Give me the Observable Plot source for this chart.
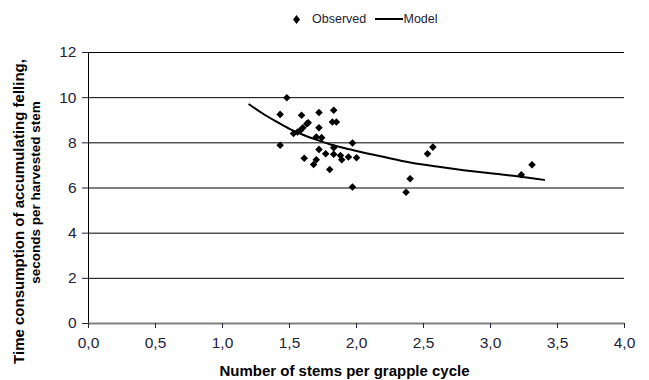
<!DOCTYPE html>
<html>
<head>
<meta charset="utf-8">
<script src="https://cdn.jsdelivr.net/npm/d3@7"></script>
<script src="https://cdn.jsdelivr.net/npm/@observablehq/plot@0.6"></script>
<style>
  html, body { margin: 0; padding: 0; background: #fff; }
  body { width: 649px; height: 380px; overflow: hidden; font-family: "Liberation Sans", Arial, sans-serif; }
  #legend { position: relative; height: 40px; font-size: 12.5px; color: #1c1c34; line-height: 16px; }
  #legend .item { position: absolute; white-space: nowrap; }
  #chart svg { display: block; }
</style>
</head>
<body>
<div id="legend"></div>
<div id="chart"></div>
<script>
// Observed points
const obsX = [1.48, 1.43, 1.59, 1.72, 1.83, 1.82, 1.85, 1.64, 1.53, 1.56, 1.58, 1.60, 1.63, 1.72, 1.70, 1.74,
              1.43, 1.97, 1.83, 1.72, 1.77, 1.83, 1.88, 1.89, 1.94, 2.00, 1.61, 1.70, 1.68, 1.80, 1.97,
              2.57, 2.53, 2.40, 2.37, 3.31, 3.23];
const obsY = [10.0, 9.26, 9.22, 9.34, 9.44, 8.92, 8.92, 8.89, 8.41, 8.48, 8.55, 8.67, 8.85, 8.67, 8.26, 8.23,
              7.89, 7.99, 7.78, 7.71, 7.52, 7.49, 7.44, 7.25, 7.37, 7.34, 7.32, 7.25, 7.04, 6.82, 6.04,
              7.81, 7.52, 6.41, 5.81, 7.03, 6.59];
// Model curve
const modelX = [1.2, 1.3, 1.4, 1.5, 1.6, 1.7, 1.8, 1.9, 2.0, 2.2, 2.4, 2.6, 2.8, 3.0, 3.2, 3.4];
const modelY = [9.70, 9.30, 8.95, 8.62, 8.36, 8.14, 7.94, 7.78, 7.64, 7.38, 7.13, 6.95, 6.79, 6.65, 6.52, 6.36];
// Ticks
const xTicks = [0, 0.5, 1, 1.5, 2, 2.5, 3, 3.5, 4];
const xTickLabels = ["0,0", "0,5", "1,0", "1,5", "2,0", "2,5", "3,0", "3,5", "4,0"];
const yTicks = [0, 2, 4, 6, 8, 10, 12];
const yTickLabels = ["0", "2", "4", "6", "8", "10", "12"];
const seriesNames = ["Observed", "Model"];
const xTitle = "Number of stems per grapple cycle";
const yTitle1 = "Time consumption of accumulating felling,";
const yTitle2 = "seconds per harvested stem";

const observed = obsX.map((x, i) => ({x, y: obsY[i]}));
const model = modelX.map((x, i) => ({x, y: modelY[i]}));

// Legend (HTML, above the SVG)
const legend = document.getElementById("legend");
legend.innerHTML =
  `<svg class="item" style="left:292.5px;top:14.5px" width="7" height="9"><path d="M3.5,0L7,4.5L3.5,9L0,4.5Z" fill="#000"/></svg>` +
  `<span class="item" style="left:312px;top:11px">${seriesNames[0]}</span>` +
  `<span class="item" style="left:375px;top:18px;width:28px;height:2px;background:#000"></span>` +
  `<span class="item" style="left:403.5px;top:11px">${seriesNames[1]}</span>`;

const chart = Plot.plot({
  width: 649,
  height: 340,
  marginTop: 12,
  marginBottom: 57,
  marginLeft: 88,
  marginRight: 25,
  style: {fontFamily: "'Liberation Sans', Arial, sans-serif", background: "#fff", overflow: "visible"},
  x: {domain: [0, 4]},
  y: {domain: [0, 12]},
  marks: [
    Plot.ruleY(yTicks.filter(d => d > 0), {stroke: "#000", strokeWidth: 1}),
    Plot.ruleX([0], {stroke: "#000", strokeWidth: 1}),
    Plot.ruleY([0], {stroke: "#808080", strokeWidth: 2}),
    Plot.axisY(yTicks, {
      tickSize: 6, tickPadding: 6, fontSize: 15.5, color: "#22223a", label: null,
      tickFormat: d => yTickLabels[yTicks.indexOf(d)]
    }),
    Plot.axisX(xTicks, {
      tickSize: 5, tickPadding: 8, fontSize: 15.5, color: "#22223a", label: null,
      tickFormat: d => xTickLabels[xTicks.indexOf(d)]
    }),
    Plot.line(model, {x: "x", y: "y", stroke: "#000", strokeWidth: 2, curve: "monotone-x"}),
    Plot.dot(observed, {x: "x", y: "y", symbol: "diamond2", fill: "#000", stroke: "none", r: 3.4}),
    Plot.text([xTitle], {frameAnchor: "bottom", text: d => d, dx: -12, dy: 48, lineAnchor: "middle",
      textAnchor: "middle", fontWeight: "bold", fontSize: 15, fill: "#000"}),
    Plot.text([yTitle1], {frameAnchor: "left", text: d => d, rotate: -90, dx: -69, dy: 23.5, lineAnchor: "middle",
      textAnchor: "middle", fontWeight: "bold", fontSize: 15, fill: "#000"}),
    Plot.text([yTitle2], {frameAnchor: "left", text: d => d, rotate: -90, dx: -53, dy: 4.5, lineAnchor: "middle",
      textAnchor: "middle", fontWeight: "bold", fontSize: 13.5, fill: "#000"})
  ]
});
document.getElementById("chart").appendChild(chart);
</script>
</body>
</html>
